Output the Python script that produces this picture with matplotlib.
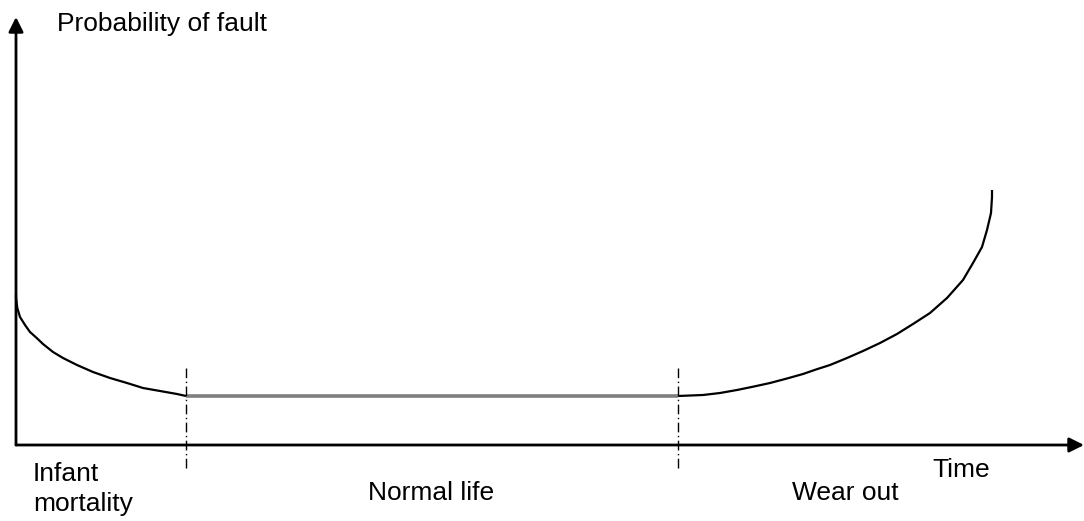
import matplotlib
matplotlib.use("Agg")
import matplotlib.pyplot as plt

# =====================================================
# Bathtub curve data (time units, probability units)
# =====================================================
infant_t = [0.00, 0.00, 0.013, 0.04, 0.09, 0.14, 0.207, 0.27, 0.37, 0.47,
            0.61, 0.77, 0.94, 1.11, 1.27, 1.44, 1.61, 1.70]
infant_p = [1.51, 1.47, 1.37, 1.28, 1.20, 1.13, 1.07, 1.01, 0.93, 0.87,
            0.80, 0.73, 0.67, 0.62, 0.57, 0.54, 0.51, 0.49]

normal_t = [1.70, 6.62]
normal_p = [0.49, 0.49]

wear_t = [6.62, 6.87, 7.04, 7.21, 7.38, 7.54, 7.71, 7.87, 8.00, 8.14, 8.31,
          8.47, 8.64, 8.81, 8.97, 9.14, 9.31, 9.47, 9.57, 9.66, 9.71, 9.75,
          9.76, 9.76]
wear_p = [0.49, 0.50, 0.52, 0.55, 0.585, 0.62, 0.665, 0.71, 0.755, 0.80, 0.87,
          0.94, 1.02, 1.11, 1.21, 1.32, 1.47, 1.65, 1.82, 1.98, 2.15, 2.32,
          2.48, 2.55]

phase_bounds = [1.70, 6.62]
phase_labels = ["Infant\nmortality", "Normal life", "Wear out"]

plt.rcParams["font.family"] = ["Liberation Sans", "DejaVu Sans"]

fig = plt.figure(figsize=(10.84, 5.21), dpi=100)
ax = fig.add_axes([0, 0, 1, 1])
ax.set_xlim(-0.16, 10.68)
ax.set_ylim(-0.76, 4.45)
ax.axis("off")

# axes with arrows
ax.annotate("", xy=(10.68, 0), xytext=(0, 0),
            arrowprops=dict(arrowstyle="-|>", lw=2, color="black",
                            mutation_scale=22, shrinkA=0, shrinkB=0))
ax.annotate("", xy=(0, 4.28), xytext=(0, 0),
            arrowprops=dict(arrowstyle="-|>", lw=2, color="black",
                            mutation_scale=22, shrinkA=0, shrinkB=0))

# curve
ax.plot(infant_t, infant_p, color="black", lw=1.6, solid_capstyle="butt",
        solid_joinstyle="round")
ax.plot(normal_t, normal_p, color="#7f7f7f", lw=2.6, solid_capstyle="butt")
ax.plot(wear_t, wear_p, color="black", lw=1.6, solid_capstyle="butt",
        solid_joinstyle="round")

# phase separators
for b in phase_bounds:
    ax.plot([b, b], [-0.23, 0.77], color="black", lw=1,
            linestyle=(0, (7, 2.5, 1, 2.5)))

# texts
fs = 19
ax.text(0.41, 4.14, "Probability of fault", fontsize=fs, va="baseline", ha="left")
infant_lines = phase_labels[0].split("\n")
ax.text(0.17, -0.36, infant_lines[0], fontsize=fs, va="baseline", ha="left")
ax.text(0.17, -0.66, infant_lines[1], fontsize=fs, va="baseline", ha="left")
ax.text(3.52, -0.55, phase_labels[1], fontsize=fs, va="baseline", ha="left")
ax.text(7.76, -0.55, phase_labels[2], fontsize=fs, va="baseline", ha="left")
ax.text(9.16, -0.32, "Time", fontsize=fs, va="baseline", ha="left")

plt.savefig("out.png", dpi=100)
plt.close()
